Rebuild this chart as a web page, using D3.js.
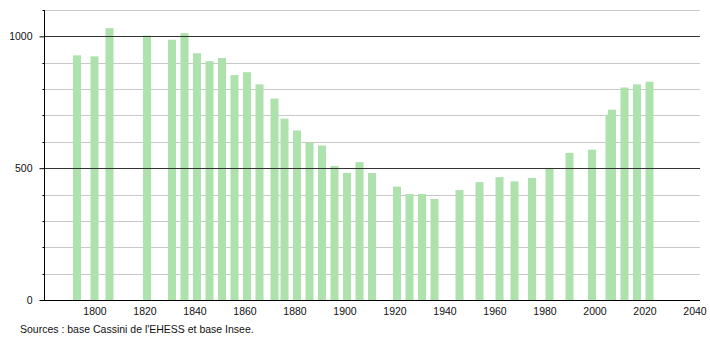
<!DOCTYPE html>
<html>
<head>
<meta charset="utf-8">
<script src="https://cdn.jsdelivr.net/npm/d3@7"></script>
<style>
  body { margin: 0; background: #fff; }
  text { font-family: "Liberation Sans", Arial, sans-serif; }
</style>
</head>
<body>
<div id="chart"></div>
<script>
// data
let years = [1793, 1800, 1806, 1821, 1831, 1836, 1841, 1846, 1851, 1856,
             1861, 1866, 1872, 1876, 1881, 1886, 1891, 1896, 1901, 1906,
             1911, 1921, 1926, 1931, 1936, 1946, 1954, 1962, 1968, 1975,
             1982, 1990, 1999, 2006, 2007, 2012, 2017, 2022];
let population = [928, 924, 1031, 1003, 987, 1012, 936, 906, 918, 853,
                  864, 818, 764, 688, 643, 597, 586, 508, 482, 523,
                  482, 430, 402, 402, 383, 417, 447, 466, 450, 463,
                  501, 558, 570, 703, 722, 806, 818, 828];
let yTicks = [0, 500, 1000];
let yMinor = [100, 200, 300, 400, 600, 700, 800, 900, 1100];
let xTicks = [1800, 1820, 1840, 1860, 1880, 1900, 1920, 1940, 1960, 1980, 2000, 2020, 2040];
let sourceText = "Sources : base Cassini de l'EHESS et base Insee.";

let svgWidth = 710;
let svgHeight = 340;
let margin = { top: 10, right: 10, bottom: 40, left: 44 };
let chartWidth = svgWidth - margin.left - margin.right;
let chartHeight = svgHeight - margin.top - margin.bottom;

let svg = d3.select("#chart")
  .append("svg")
  .attr("width", svgWidth)
  .attr("height", svgHeight);

let chartGroup = svg.append("g")
  .attr("transform", `translate(${margin.left}, ${margin.top})`);

// scales
let xScale = d3.scaleLinear().domain([1780, 2042]).range([0.5, chartWidth - 0.5]);
let yScale = d3.scaleLinear().domain([0, 1100]).range([chartHeight, 0]);

// light grid lines
chartGroup.append("g")
  .selectAll("line")
  .data(yMinor)
  .enter()
  .append("line")
  .attr("x1", 0)
  .attr("x2", chartWidth)
  .attr("y1", d => Math.round(yScale(d)) + 0.5)
  .attr("y2", d => Math.round(yScale(d)) + 0.5)
  .attr("stroke", "#c8c8c8")
  .attr("stroke-width", 1);

// bars
let barW = 8;
chartGroup.append("g")
  .selectAll("rect")
  .data(years)
  .enter()
  .append("rect")
  .attr("x", d => xScale(d) - barW / 2)
  .attr("y", (d, i) => yScale(population[i]))
  .attr("width", barW)
  .attr("height", (d, i) => chartHeight - yScale(population[i]))
  .attr("fill", "#ade2ad");

// dark lines at 500 and 1000
chartGroup.append("g")
  .selectAll("line")
  .data(yTicks.filter(d => d > 0))
  .enter()
  .append("line")
  .attr("x1", 0)
  .attr("x2", chartWidth)
  .attr("y1", d => Math.round(yScale(d)) + 0.5)
  .attr("y2", d => Math.round(yScale(d)) + 0.5)
  .attr("stroke", "#333")
  .attr("stroke-width", 1);

// y axis
let yAxis = d3.axisLeft(yScale).tickValues(yTicks).tickSize(5).tickPadding(7).tickFormat(d3.format("d"));
let yG = chartGroup.append("g").attr("transform", "translate(0.5,0)").call(yAxis);
yG.select(".domain").attr("stroke", "#000").attr("d", `M0,0V${chartHeight}`);
yG.selectAll("text").attr("font-size", "10.5px").attr("fill", "#111").attr("font-family", "Liberation Sans, Arial, sans-serif");

// minor y ticks
yG.append("g")
  .selectAll("line")
  .data(yMinor)
  .enter()
  .append("line")
  .attr("x1", -2)
  .attr("x2", 0)
  .attr("y1", d => Math.round(yScale(d)) + 0.5)
  .attr("y2", d => Math.round(yScale(d)) + 0.5)
  .attr("stroke", "#000");

// x axis
let xAxis = d3.axisBottom(xScale).tickValues(xTicks).tickSize(0).tickPadding(7).tickFormat(d3.format("d"));
let xG = chartGroup.append("g").attr("transform", `translate(0, ${chartHeight + 0.5})`).call(xAxis);
xG.select(".domain").attr("stroke", "#000").attr("d", `M0,0H${chartWidth}`);
xG.selectAll("text").attr("font-size", "10.5px").attr("fill", "#111").attr("font-family", "Liberation Sans, Arial, sans-serif");

// source text
svg.append("text")
  .attr("x", 20)
  .attr("y", 333)
  .attr("font-size", "10.5px")
  .attr("fill", "#111")
  .text(sourceText);
</script>
</body>
</html>
